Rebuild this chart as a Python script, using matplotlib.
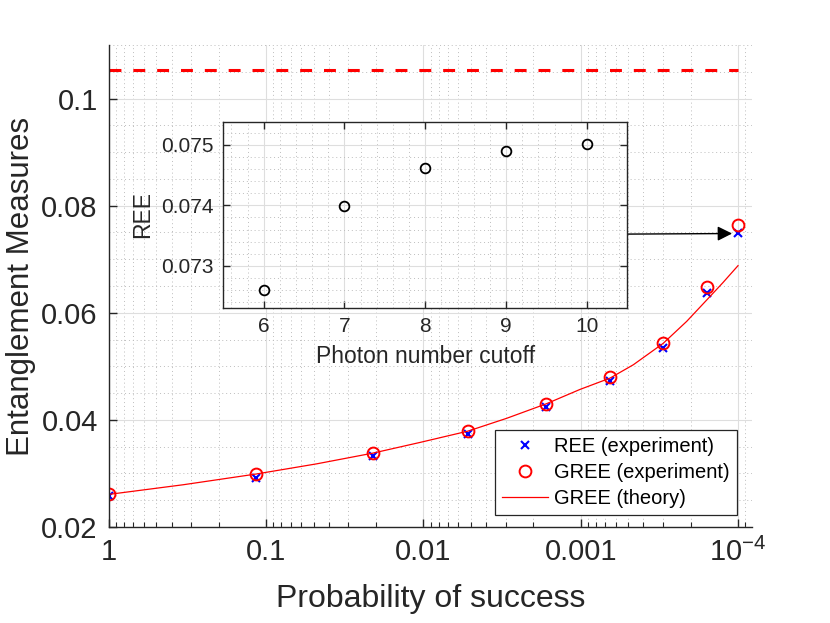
import matplotlib
matplotlib.use("Agg")
import matplotlib.pyplot as plt
from matplotlib.ticker import FixedLocator, LogLocator, MultipleLocator, NullFormatter

plt.rcParams["font.family"] = ["Liberation Sans", "DejaVu Sans"]
plt.rcParams["mathtext.default"] = "regular"

# ---------------------------------------------------------------------------
# Data
# ---------------------------------------------------------------------------
p_success = [1.0, 0.116, 0.0209, 0.0052, 0.00166, 6.5e-4, 3.0e-4, 1.58e-4, 1.0e-4]
ree_exp = [0.0258, 0.0292, 0.0333, 0.0374, 0.0425, 0.0472, 0.0534, 0.0637, 0.0749]
gree_exp = [0.0262, 0.0299, 0.0338, 0.0380, 0.0430, 0.0480, 0.0543, 0.0648, 0.0763]

p_theory = [1.0, 0.337, 0.116, 0.0478, 0.0210, 0.01052, 0.00523, 0.00296,
            0.00166, 0.00101, 6.52e-4, 4.63e-4, 2.99e-4, 2.12e-4, 1.58e-4,
            1.25e-4, 1.0e-4]
gree_theory = [0.0261, 0.0279, 0.0299, 0.0318, 0.0338, 0.0358, 0.0379, 0.0403,
               0.0430, 0.0457, 0.0478, 0.0503, 0.0543, 0.0584, 0.0624,
               0.0656, 0.0688]

bound_level = 0.1054
bound_span = [1.0, 1.0e-4]

cutoff = [6, 7, 8, 9, 10]
ree_cutoff = [0.07261, 0.07399, 0.07462, 0.07489, 0.07501]

x_ticks = [1, 0.1, 0.01, 0.001, 1e-4]
x_ticklabels = ["1", "0.1", "0.01", "0.001", "10$^{-4}$"]
y_ticks = [0.02, 0.04, 0.06, 0.08, 0.1]
y_ticklabels = ["0.02", "0.04", "0.06", "0.08", "0.1"]

TXT = "#262626"
MAJ_GRID = dict(color="#dedede", lw=0.8, ls="-")
MIN_GRID = dict(color="#bdbdbd", lw=0.7, ls=(0, (1, 3)))

fig = plt.figure(figsize=(8.3, 6.23), dpi=100)
ax = fig.add_axes([0.1313, 0.154, 0.7747, 0.7738])

ax.plot(bound_span, [bound_level, bound_level], color="#ff0000", lw=2.2,
        ls=(0, (3.9, 3.9)))
ax.plot(p_success, ree_exp, "x", color="#0000ff", ms=5.5, mew=1.5,
        label="REE (experiment)")
ax.plot(p_success, gree_exp, "o", mfc="none", mec="#ff0000", ms=8.5, mew=1.4,
        label="GREE (experiment)")
ax.plot(p_theory, gree_theory, "-", color="#ff0000", lw=0.9,
        label="GREE (theory)")

ax.set_xscale("log")
ax.set_xlim(1, 8.15e-5)
ax.set_ylim(0.02, 0.110)

ax.xaxis.set_major_locator(FixedLocator(x_ticks))
ax.set_xticklabels(x_ticklabels)
ax.xaxis.set_minor_locator(LogLocator(base=10, subs=range(2, 10), numticks=20))
ax.xaxis.set_minor_formatter(NullFormatter())
ax.set_yticks(y_ticks)
ax.set_yticklabels(y_ticklabels)
ax.yaxis.set_minor_locator(MultipleLocator(0.005))

ax.grid(which="major", **MAJ_GRID)
ax.grid(which="minor", **MIN_GRID)
ax.set_axisbelow(True)

for side in ("top", "right"):
    ax.spines[side].set_visible(False)
for side in ("left", "bottom"):
    ax.spines[side].set_color(TXT)
    ax.spines[side].set_linewidth(1.0)

ax.tick_params(which="major", direction="in", length=6, width=1.0,
               colors=TXT, labelsize=21, pad=8)
ax.tick_params(axis="x", which="minor", direction="in", length=3.5,
               width=0.8, colors=TXT)
ax.tick_params(axis="y", which="minor", length=0)

ax.set_xlabel("Probability of success", fontsize=23, color=TXT, labelpad=12)
ax.set_ylabel("Entanglement Measures", fontsize=22.5, color=TXT, labelpad=4)

leg = ax.legend(loc="upper right", bbox_to_anchor=(0.888, 0.3098),
                bbox_transform=fig.transFigure, borderaxespad=0,
                fontsize=14.5, numpoints=1, handlelength=2.3,
                handletextpad=0.3, labelspacing=0.35, borderpad=0.35,
                fancybox=False, framealpha=1.0, edgecolor=TXT)
leg.get_frame().set_linewidth(0.9)
for t in leg.get_texts():
    t.set_color("#000000")

# ---------------------------------------------------------------------------
# Inset: REE vs photon number cutoff
# ---------------------------------------------------------------------------
ins = fig.add_axes([0.269, 0.506, 0.4867, 0.2986])
ins.set_facecolor("white")
ins.plot(cutoff, ree_cutoff, "o", mfc="none", mec="k", ms=7, mew=1.3)
ins.set_xlim(5.5, 10.5)
ins.set_ylim(0.07231, 0.07538)
ins.set_xticks(cutoff)
ins.set_yticks([0.073, 0.074, 0.075])
ins.set_yticklabels(["0.073", "0.074", "0.075"])
ins.xaxis.set_minor_locator(MultipleLocator(0.2))
ins.yaxis.set_minor_locator(MultipleLocator(0.0002))
ins.grid(which="major", **MAJ_GRID)
ins.grid(which="minor", **MIN_GRID)
ins.set_axisbelow(True)
for s in ins.spines.values():
    s.set_color(TXT)
    s.set_linewidth(1.0)
ins.tick_params(which="major", direction="in", length=5, width=1.0,
                colors=TXT, labelsize=15, top=True, right=True, pad=7)
ins.tick_params(which="minor", length=0)
ins.set_xlabel("Photon number cutoff", fontsize=16.5, color=TXT, labelpad=6)
ins.set_ylabel("REE", fontsize=16.5, color=TXT, labelpad=5)

# arrow from inset to the last experimental point
ax.annotate("", xy=(1.09e-4, 0.0748), xycoords="data",
            xytext=(1.0, 0.396), textcoords=ins.transAxes,
            arrowprops=dict(arrowstyle="-|>", color="k", lw=1.0,
                            mutation_scale=22, shrinkA=0, shrinkB=0))

fig.savefig("out.png", dpi=100)
